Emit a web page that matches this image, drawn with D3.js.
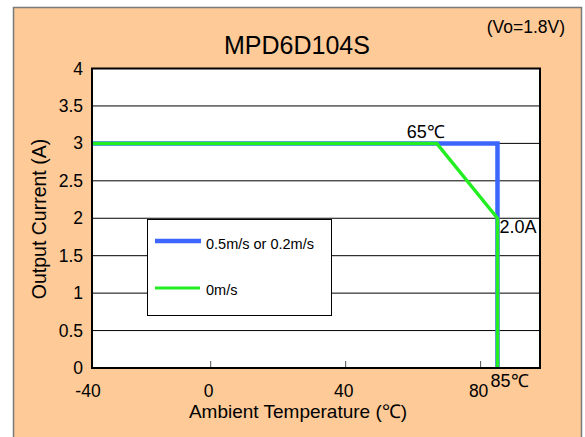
<!DOCTYPE html>
<html><head><meta charset="utf-8">
<script src="https://cdn.jsdelivr.net/npm/d3@7"></script>
<style>body{margin:0;background:#fff;}svg{display:block;font-family:"Liberation Sans",Arial,sans-serif;}</style>
</head><body>
<svg id="c" width="585" height="437"></svg>
<script>
const title = "MPD6D104S";
const subtitle = "(Vo=1.8V)";
const xLabel = "Ambient Temperature (℃)";
const yLabel = "Output Current (A)";
const xTickValues = [-40, 0, 40, 80];
const yTickValues = [0, 0.5, 1, 1.5, 2, 2.5, 3, 3.5, 4];
const seriesNames = ["0.5m/s or 0.2m/s", "0m/s"];
const blueTemp = [-40, 85, 85];
const blueCurrent = [3, 3, 0];
const greenTemp = [-40, 67, 85, 85];
const greenCurrent = [3, 3, 2, 0];
const annotations = [{t: 67, v: 3, text: "65℃"}, {t: 85, v: 2, text: "2.0A"}, {t: 85, v: 0, text: "85℃"}];

const svg = d3.select("#c");
const L = 92, R = 540, T = 68.5, B = 368;
// piecewise scale: left edge labelled -40, ticks 0/40/80 evenly spaced
const x = d3.scaleLinear().domain([-40, 0, 97.6]).range([L, 210.7, R]);
const y = d3.scaleLinear().domain([0, 4]).range([B, T]);

svg.append("rect").attr("x", 13.5).attr("y", 7.5).attr("width", 568).attr("height", 440)
  .attr("fill", "#fdca98").attr("stroke", "#7a7a7a").attr("stroke-width", 1.5);

svg.append("rect").attr("x", L).attr("y", T).attr("width", R - L).attr("height", B - T).attr("fill", "#fff");

// gridlines
svg.append("g").selectAll("line").data(yTickValues.filter(d => d > 0 && d < 4)).join("line")
  .attr("x1", L).attr("x2", R).attr("y1", d => y(d)).attr("y2", d => y(d))
  .attr("stroke", "#000").attr("stroke-width", 1);

// x ticks
svg.append("g").selectAll("line").data(xTickValues.filter(d => d > -40)).join("line")
  .attr("x1", d => x(d)).attr("x2", d => x(d)).attr("y1", B).attr("y2", B - 7)
  .attr("stroke", "#555").attr("stroke-width", 1);

// legend box
const lg = svg.append("g");
lg.append("rect").attr("x", 147.5).attr("y", 219.5).attr("width", 184).attr("height", 96)
  .attr("fill", "#fff").attr("stroke", "#000").attr("stroke-width", 1);
lg.append("line").attr("x1", 155).attr("x2", 201).attr("y1", 241).attr("y2", 241).attr("stroke", "#3d66ff").attr("stroke-width", 4.5);
lg.append("line").attr("x1", 155).attr("x2", 200).attr("y1", 288).attr("y2", 288).attr("stroke", "#22ee22").attr("stroke-width", 3);
lg.append("text").attr("x", 206).attr("y", 249).attr("font-size", 14.5).text(seriesNames[0]);
lg.append("text").attr("x", 206).attr("y", 295).attr("font-size", 14.5).text(seriesNames[1]);

const line = d3.line().x(d => x(d[0])).y(d => y(d[1]));
svg.append("path").datum(blueTemp.map((t, i) => [t, blueCurrent[i]])).attr("d", line)
  .attr("fill", "none").attr("stroke", "#3d66ff").attr("stroke-width", 4.5).attr("stroke-linejoin", "miter");
svg.append("path").datum(greenTemp.map((t, i) => [t, greenCurrent[i]])).attr("d", line)
  .attr("fill", "none").attr("stroke", "#22ee22").attr("stroke-width", 3.5).attr("stroke-linejoin", "miter");

// plot border
svg.append("rect").attr("x", L).attr("y", T).attr("width", R - L).attr("height", B - T)
  .attr("fill", "none").attr("stroke", "#000").attr("stroke-width", 2);

// y tick labels
svg.append("g").selectAll("text").data(yTickValues).join("text")
  .attr("x", 83).attr("y", d => y(d) + 6).attr("text-anchor", "end").attr("font-size", 17.5)
  .text(d => d3.format("~g")(d));
// x tick labels
svg.append("g").selectAll("text").data(xTickValues).join("text")
  .attr("x", d => x(d) - (d === -40 ? 4 : 2)).attr("y", 397).attr("text-anchor", "middle").attr("font-size", 17.5)
  .text(d => d);

// annotations
svg.append("text").attr("x", x(annotations[0].t) - 30).attr("y", y(annotations[0].v) - 5).attr("font-size", 18).text(annotations[0].text);
svg.append("text").attr("x", x(annotations[1].t) + 2).attr("y", y(annotations[1].v) + 15).attr("font-size", 18).text(annotations[1].text);
svg.append("text").attr("x", x(annotations[2].t) - 7).attr("y", 387).attr("font-size", 18).text(annotations[2].text);

svg.append("text").attr("x", 297).attr("y", 54).attr("text-anchor", "middle").attr("font-size", 25).text(title);
svg.append("text").attr("x", 565).attr("y", 33).attr("text-anchor", "end").attr("font-size", 17.5).text(subtitle);
svg.append("text").attr("x", 298).attr("y", 418).attr("text-anchor", "middle").attr("font-size", 19).text(xLabel);
svg.append("text").attr("transform", "translate(46,219) rotate(-90)").attr("text-anchor", "middle").attr("font-size", 19.5).text(yLabel);
</script>
</body></html>
